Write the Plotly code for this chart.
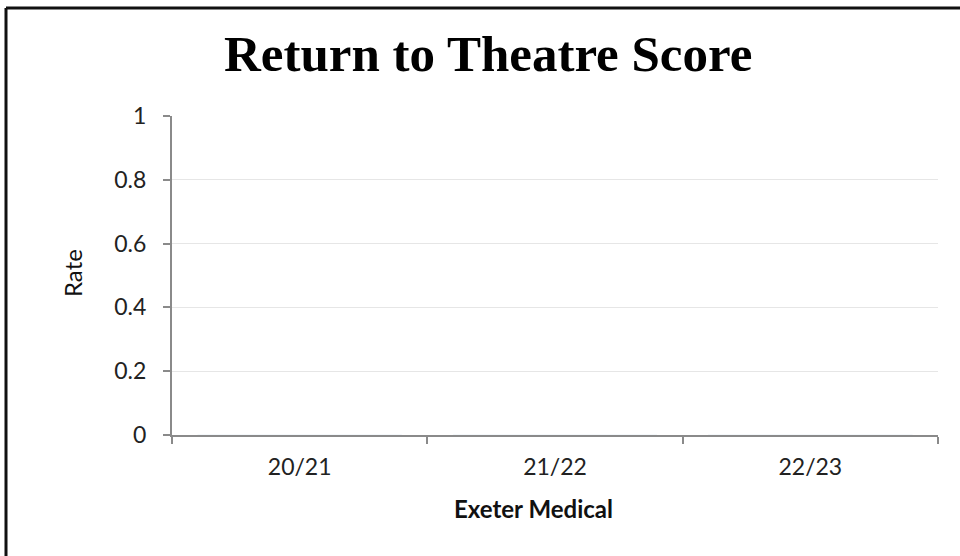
import plotly.graph_objects as go

# Chart content
title_text = "Return to Theatre Score"
categories = ["20/21", "21/22", "22/23"]
rates = [0, 0, 0]
x_title = "Exeter Medical"
y_title = "Rate"

W, H = 960, 556
L, R, T, B = 172, 22, 116, 121
pw, ph = W - L - R, H - T - B

def px_x(x):
    return (x - L) / pw

def px_y(y):
    return 1 + (T - y) / ph

sans = "Lato, 'Open Sans', sans-serif"
tick_font = dict(family=sans, size=23, color="#222")
axis_col = "#8a8a8a"

fig = go.Figure(
    go.Bar(x=categories, y=rates, marker_color="#4f81bd", showlegend=False)
)

fig.update_layout(
    width=W, height=H,
    margin=dict(l=L, r=R, t=T, b=B),
    paper_bgcolor="white", plot_bgcolor="white",
    showlegend=False,
)

fig.update_xaxes(
    type="category", range=[-0.5, 2.5],
    showline=True, linecolor=axis_col, linewidth=2,
    ticks="outside", tickson="boundaries", ticklen=7, tickcolor=axis_col, tickwidth=2,
    showgrid=False, zeroline=False,
    tickfont=tick_font, ticklabelstandoff=10,
)
fig.update_yaxes(
    range=[0, 1], dtick=0.2, tick0=0,
    showline=True, linecolor=axis_col, linewidth=2,
    ticks="outside", ticklen=7, tickcolor=axis_col, tickwidth=2,
    showgrid=True, gridcolor="#e6e6e6", gridwidth=1,
    zeroline=False,
    tickfont=tick_font, ticklabelstandoff=12,
)

fig.add_annotation(
    text=f"<b>{title_text}</b>", xref="paper", yref="paper",
    x=px_x(488), y=px_y(54), xanchor="center", yanchor="middle",
    showarrow=False,
    font=dict(family="'Liberation Serif', serif", size=51, color="#000"),
)
fig.add_annotation(
    text=f"<b>{x_title}</b>", xref="paper", yref="paper",
    x=px_x(533), y=px_y(508), xanchor="center", yanchor="middle",
    showarrow=False, font=dict(family=sans, size=24, color="#111"),
)
fig.add_annotation(
    text=y_title, xref="paper", yref="paper", textangle=-90,
    x=px_x(72), y=px_y(273), xanchor="center", yanchor="middle",
    showarrow=False, font=dict(family=sans, size=24, color="#111"),
)

# Chart frame (left and top edges run off the canvas on the other sides)
frame = dict(color="#111", width=3)
fig.add_shape(type="line", xref="paper", yref="paper",
              x0=px_x(6), x1=px_x(6), y0=px_y(8), y1=px_y(600), line=frame)
fig.add_shape(type="line", xref="paper", yref="paper",
              x0=px_x(6), x1=px_x(1000), y0=px_y(8), y1=px_y(8), line=frame)

fig.write_html("out.html")
